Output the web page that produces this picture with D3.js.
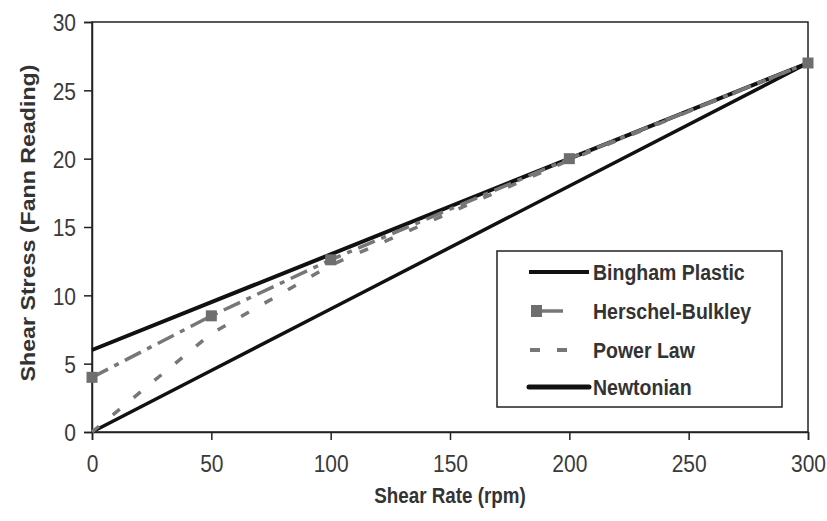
<!DOCTYPE html>
<html><head><meta charset="utf-8">
<script src="https://cdn.jsdelivr.net/npm/d3@7"></script>
<style>
body{margin:0;background:#fff;}
text{font-family:"Liberation Sans",Arial,sans-serif;}
</style></head>
<body><svg id="c" width="827" height="521"></svg>
<script>
const shearRate = [0, 50, 100, 200, 300];
const bingham   = [6, 9.5, 13, 20, 27];
const herschel  = [4, 8.5, 12.6, 20, 27];
const powerLaw  = [0, 7.2, 12.2, 19.9, 27];
const newtonian = [0, 4.5, 9, 18, 27];
const xTicks = [0, 50, 100, 150, 200, 250, 300];
const yTicks = [0, 5, 10, 15, 20, 25, 30];
const seriesNames = ["Bingham Plastic", "Herschel-Bulkley", "Power Law", "Newtonian"];

const svg = d3.select("#c");
const L = 92, R = 808, T = 22, B = 432;
const K = 1.17; // vertical stretch of lettering
const x = d3.scaleLinear().domain([0, 300]).range([L, R]);
const y = d3.scaleLinear().domain([0, 30]).range([B, T]);
const ink = "#222", gray = "#777";

svg.append("rect").attr("x", L).attr("y", T).attr("width", R - L).attr("height", B - T)
  .attr("fill", "none").attr("stroke", ink).attr("stroke-width", 1.5);

const tf = 21;
const xa = svg.append("g").attr("transform", `translate(0,${B})`)
  .call(d3.axisBottom(x).tickValues(xTicks).tickSize(8).tickFormat(d3.format("d")));
const ya = svg.append("g").attr("transform", `translate(${L},0)`)
  .call(d3.axisLeft(y).tickValues(yTicks).tickSize(8).tickFormat(d3.format("d")));
[xa, ya].forEach(a => {
  a.select(".domain").attr("stroke", ink).attr("stroke-width", 1.5);
  a.selectAll(".tick line").attr("stroke", ink).attr("stroke-width", 1.5);
  a.selectAll("text").attr("font-size", tf).attr("fill", "#3a3a3a")
    .style("font-family", "Liberation Sans, Arial, sans-serif");
});
xa.selectAll(".tick text").attr("x", 0).attr("y", 0).attr("dy", 0)
  .attr("transform", `translate(0,${39.5}) scale(1,${K})`);
ya.selectAll(".tick text").attr("x", 0).attr("y", 0).attr("dy", 0)
  .attr("transform", `translate(-16,${0.716 * tf * K / 2}) scale(1,${K})`);

svg.append("text").attr("transform", `translate(450,503) scale(1,1.2)`).attr("text-anchor", "middle")
  .attr("font-size", 18.8).attr("font-weight", "bold").attr("fill", "#333").text("Shear Rate (rpm)");
svg.append("text").attr("transform", `translate(35,223) rotate(-90) scale(1.16,1)`).attr("text-anchor", "middle")
  .attr("font-size", 20).attr("font-weight", "bold").attr("fill", "#333").text("Shear Stress (Fann Reading)");

const line = d3.line().x((d, i) => x(shearRate[i])).y(d => y(d));
const plot = svg.append("g");
plot.append("path").datum(bingham).attr("d", line).attr("fill", "none").attr("stroke", "#111").attr("stroke-width", 4);
plot.append("path").datum(newtonian).attr("d", line).attr("fill", "none").attr("stroke", "#111").attr("stroke-width", 3.5);
plot.append("path").datum(powerLaw).attr("d", line).attr("fill", "none").attr("stroke", gray).attr("stroke-width", 3.5)
  .attr("stroke-dasharray", "9,18");
plot.append("path").datum(herschel).attr("d", line).attr("fill", "none").attr("stroke", gray).attr("stroke-width", 3.5)
  .attr("stroke-dasharray", "18,7,5,7");
plot.selectAll("rect.m").data(herschel).enter().append("rect").attr("class", "m")
  .attr("x", (d, i) => x(shearRate[i]) - 5.5).attr("y", d => y(d) - 5.5)
  .attr("width", 11).attr("height", 11).attr("fill", "#6e6e6e");

const lg = svg.append("g");
lg.append("rect").attr("x", 497).attr("y", 251).attr("width", 285).attr("height", 156)
  .attr("fill", "#fff").attr("stroke", ink).attr("stroke-width", 1.5);
const ly = [272, 311, 350, 387];
const lf = 19.5;
seriesNames.forEach((n, i) => {
  lg.append("text").attr("transform", `translate(593,${ly[i] + 0.716 * lf * K / 2}) scale(1,${K})`)
    .attr("font-size", lf).attr("font-weight", "bold").attr("fill", "#333").text(n);
});
lg.append("line").attr("x1", 529).attr("x2", 589).attr("y1", ly[0]).attr("y2", ly[0]).attr("stroke", "#111").attr("stroke-width", 4);
lg.append("line").attr("x1", 540).attr("x2", 563).attr("y1", ly[1]).attr("y2", ly[1]).attr("stroke", gray).attr("stroke-width", 3.5);
lg.append("rect").attr("x", 531).attr("y", ly[1] - 6).attr("width", 11).attr("height", 12).attr("fill", "#6e6e6e");
lg.append("line").attr("x1", 530).attr("x2", 570).attr("y1", ly[2]).attr("y2", ly[2]).attr("stroke", gray).attr("stroke-width", 4)
  .attr("stroke-dasharray", "10,17");
lg.append("line").attr("x1", 529).attr("x2", 589).attr("y1", ly[3]).attr("y2", ly[3]).attr("stroke", "#111").attr("stroke-width", 5)
  .attr("stroke-linecap", "round");
</script></body></html>
